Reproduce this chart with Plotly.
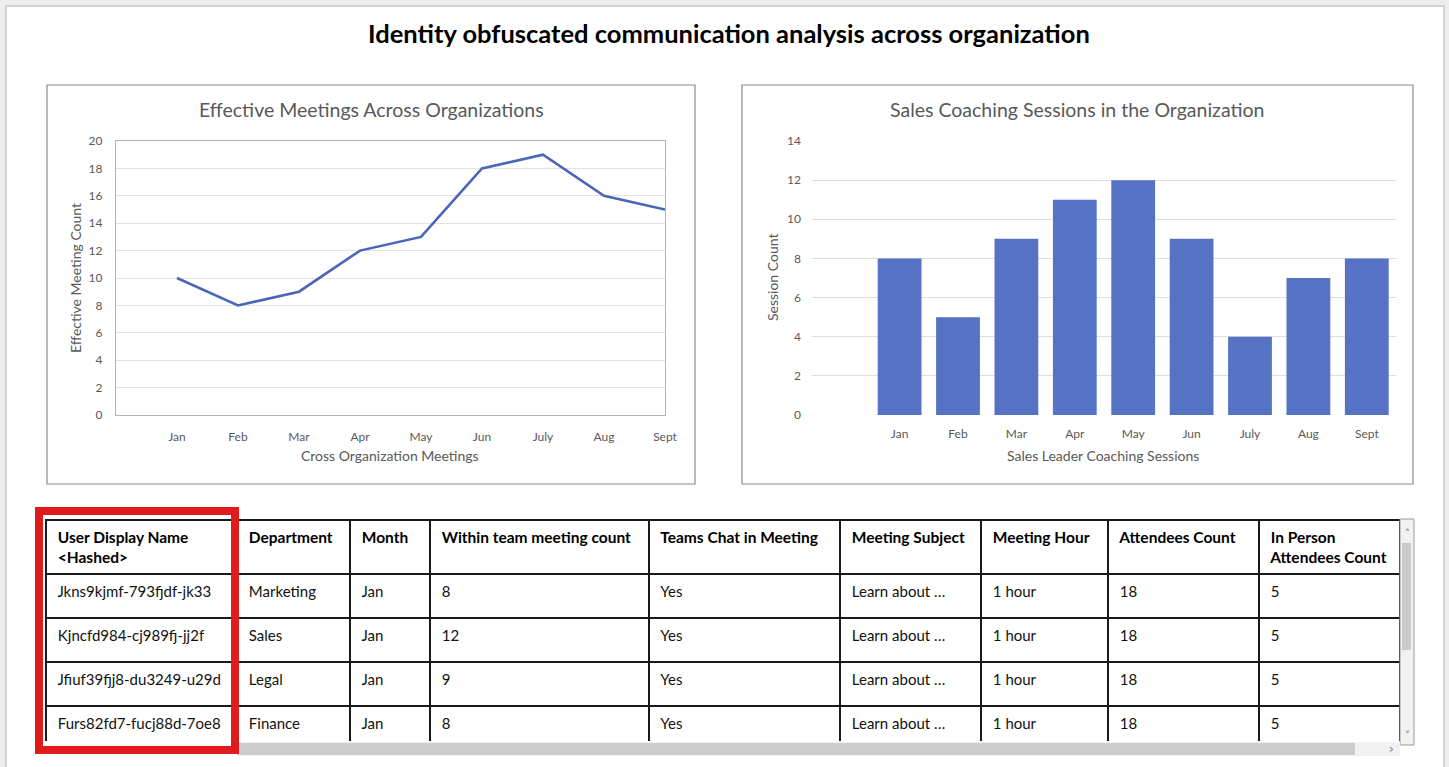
import plotly.graph_objects as go

W, H = 1449, 767

# ---------------- data ----------------
months = ["Jan", "Feb", "Mar", "Apr", "May", "Jun", "July", "Aug", "Sept"]
effective_meetings = [10, 8, 9, 12, 13, 18, 19, 16, 15]
coaching_sessions = [8, 5, 9, 11, 12, 9, 4, 7, 8]

table_headers = ["User Display Name<br>&lt;Hashed&gt;", "Department", "Month",
                 "Within team meeting count", "Teams Chat in Meeting",
                 "Meeting Subject", "Meeting Hour", "Attendees Count",
                 "In Person<br>Attendees Count"]
user_names = ["Jkns9kjmf-793fjdf-jk33", "Kjncfd984-cj989fj-jj2f",
              "Jfiuf39fjj8-du3249-u29d", "Furs82fd7-fucj88d-7oe8"]
departments = ["Marketing", "Sales", "Legal", "Finance"]
month_col = ["Jan", "Jan", "Jan", "Jan"]
within_team = [8, 12, 9, 8]
teams_chat = ["Yes", "Yes", "Yes", "Yes"]
meeting_subject = ["Learn about …"] * 4
meeting_hour = ["1 hour"] * 4
attendees = [18, 18, 18, 18]
in_person = [5, 5, 5, 5]

# ---------------- helpers ----------------
def px(x):
    return x / W

def py(y):
    return 1 - y / H

def pad(v):
    return "&nbsp;" + str(v)

FONT = "Lato"
GREY = "#595959"

fig = go.Figure()

fig.add_trace(go.Scatter(
    x=months, y=effective_meetings, mode="lines",
    line=dict(color="#4a66b8", width=2.6),
    xaxis="x", yaxis="y", showlegend=False))

fig.add_trace(go.Bar(
    x=months, y=coaching_sessions, marker=dict(color="#5572c5", line=dict(width=0)),
    width=0.75, xaxis="x2", yaxis="y2", showlegend=False))

columns = [user_names, departments, month_col, within_team, teams_chat,
           meeting_subject, meeting_hour, attendees, in_person]

fig.add_trace(go.Table(
    domain=dict(x=[px(46), px(1400)], y=[py(742), py(520)]),
    columnwidth=[191, 113, 80, 219, 191, 141, 127, 151, 141],
    header=dict(values=["<b>&nbsp;%s</b>" % h.replace("<br>", "<br>&nbsp;") for h in table_headers],
                align="left", height=52,
                fill=dict(color="white"),
                line=dict(color="#1a1a1a", width=1.6),
                font=dict(family=FONT, size=15.5, color="black")),
    cells=dict(values=[[pad(v) for v in col] for col in columns],
               align="left", height=44,
               fill=dict(color="white"),
               line=dict(color="#1a1a1a", width=1.6),
               font=dict(family=FONT, size=15, color="#111111"))))

tickfont = dict(family=FONT, size=12, color=GREY)

shapes = [
    # white page panel
    dict(type="rect", xref="paper", yref="paper", x0=px(6), x1=px(1444), y0=py(770), y1=py(6),
         fillcolor="white", line=dict(color="#c8c8c8", width=1.5), layer="below"),
    # chart frames
    dict(type="rect", xref="paper", yref="paper", x0=px(47), x1=px(695), y0=py(484), y1=py(85),
         fillcolor="rgba(0,0,0,0)", line=dict(color="#8a8a8a", width=1.2), layer="below"),
    dict(type="rect", xref="paper", yref="paper", x0=px(742), x1=px(1413), y0=py(484), y1=py(85),
         fillcolor="rgba(0,0,0,0)", line=dict(color="#8a8a8a", width=1.2), layer="below"),
    # vertical scrollbar
    dict(type="rect", xref="paper", yref="paper", x0=px(1400), x1=px(1414), y0=py(745), y1=py(519),
         fillcolor="#f1f1f1", line=dict(color="#9a9a9a", width=1), layer="above"),
    dict(type="rect", xref="paper", yref="paper", x0=px(1402), x1=px(1411), y0=py(650), y1=py(543),
         fillcolor="#cbcbcb", line=dict(width=0), layer="above"),
    # horizontal scrollbar
    dict(type="rect", xref="paper", yref="paper", x0=px(237), x1=px(1400), y0=py(756), y1=py(742),
         fillcolor="#f1f1f1", line=dict(width=0), layer="above"),
    dict(type="rect", xref="paper", yref="paper", x0=px(237), x1=px(1355), y0=py(755), y1=py(743),
         fillcolor="#cdcdcd", line=dict(width=0), layer="above"),
    # red highlight
    dict(type="rect", xref="paper", yref="paper", x0=px(39), x1=px(235), y0=py(750), y1=py(511),
         fillcolor="rgba(0,0,0,0)", line=dict(color="#e11b1b", width=8), layer="above"),
]

annotations = [
    dict(text="<b>Identity obfuscated communication analysis across organization</b>",
         x=px(729), y=py(33), font=dict(family=FONT, size=25.5, color="black")),
    dict(text="Effective Meetings Across Organizations", x=px(371), y=py(109),
         font=dict(family=FONT, size=19.5, color=GREY)),
    dict(text="Sales Coaching Sessions in the Organization", x=px(1077), y=py(109),
         font=dict(family=FONT, size=19.5, color=GREY)),
    dict(text="Cross Organization Meetings", x=px(390), y=py(455),
         font=dict(family=FONT, size=14, color=GREY)),
    dict(text="Sales Leader Coaching Sessions", x=px(1103), y=py(455),
         font=dict(family=FONT, size=14, color=GREY)),
    dict(text="Effective Meeting Count", x=px(75), y=py(278), textangle=-90,
         font=dict(family=FONT, size=14, color=GREY)),
    dict(text="Session Count", x=px(772), y=py(278), textangle=-90,
         font=dict(family=FONT, size=14, color=GREY)),
    dict(text="˄", x=px(1407), y=py(533), font=dict(family="DejaVu Sans", size=10, color="#777777")),
    dict(text="˅", x=px(1407), y=py(735), font=dict(family="DejaVu Sans", size=10, color="#777777")),
    dict(text="›", x=px(1391), y=py(749), font=dict(family="DejaVu Sans", size=12, color="#777777")),
]
for a in annotations:
    a.update(xref="paper", yref="paper", showarrow=False, xanchor="center", yanchor="middle")

fig.update_layout(
    width=W, height=H,
    margin=dict(l=0, r=0, t=0, b=0),
    paper_bgcolor="#eeeeee", plot_bgcolor="rgba(0,0,0,0)",
    font=dict(family=FONT, color=GREY),
    shapes=shapes, annotations=annotations,
    bargap=0.25,
    xaxis=dict(domain=[px(116), px(665)], anchor="y", type="category",
               range=[-1, 8], showgrid=False, showline=True, mirror=True,
               linecolor="#b3b3b3", linewidth=1.2, ticks="", tickfont=tickfont,
               ticklabelstandoff=10, fixedrange=True, automargin=False),
    yaxis=dict(domain=[py(415), py(141)], anchor="x", range=[0, 20], dtick=2,
               showgrid=True, gridcolor="#e3e3e3", gridwidth=1, zeroline=False,
               showline=True, mirror=True, linecolor="#b3b3b3", linewidth=1.2,
               ticks="", tickfont=tickfont, ticklabelstandoff=10, fixedrange=True,
               automargin=False),
    xaxis2=dict(domain=[px(812), px(1396)], anchor="y2", type="category",
                range=[-1.5, 8.5], showgrid=False, showline=False, ticks="",
                tickfont=tickfont, ticklabelstandoff=10, fixedrange=True,
                automargin=False),
    yaxis2=dict(domain=[py(415), py(141)], anchor="x2", range=[0, 14], dtick=2,
                showgrid=True, gridcolor="#dedede", gridwidth=1, zeroline=False,
                showline=False, ticks="", tickfont=tickfont, ticklabelstandoff=10,
                fixedrange=True, automargin=False),
)

post = ("document.body.style.margin='0';document.body.style.overflow='hidden';"
        "var d=document.getElementById('{plot_id}');"
        "d.style.position='fixed';d.style.left='0px';d.style.top='0px';")

fig.write_html("out.html", post_script=post, config={"displayModeBar": False})
